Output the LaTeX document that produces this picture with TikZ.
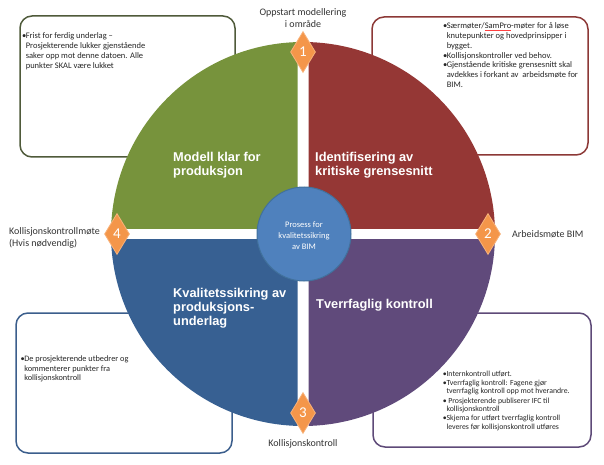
\documentclass[tikz,border=0pt]{standalone}
\usepackage{fontspec}
\setmainfont{Carlito}
\newfontfamily\titlefont{Liberation Sans}
\usetikzlibrary{shapes.geometric}
\definecolor{qgreen}{HTML}{77933C}
\definecolor{qred}{HTML}{953735}
\definecolor{qblue}{HTML}{376092}
\definecolor{qpurple}{HTML}{604A7B}
\definecolor{cblue}{HTML}{4F81BD}
\definecolor{cborder}{HTML}{41719C}
\definecolor{orangefill}{HTML}{F4964A}
\definecolor{orangeedge}{HTML}{F8B27A}
\definecolor{bgreen}{HTML}{4F5A3A}
\definecolor{bred}{HTML}{8C3836}
\definecolor{bblue}{HTML}{3B5E8C}
\definecolor{bpurple}{HTML}{5E4A78}
\definecolor{txt}{HTML}{262626}
\definecolor{lbl}{HTML}{333333}
\newcommand\bul{\makebox[3.6pt][l]{•}}
\newcommand\ind{\hspace*{3.6pt}}
\newcommand\spellmark[1]{\setbox0\hbox{#1}\rlap{\textcolor{red!75!white}{\raisebox{-1.3pt}{\rule{\wd0}{0.45pt}}}}\box0}
\tikzset{
  notebox/.style={rounded corners=12pt, line width=1.5pt, fill=white},
  boxtext/.style={inner sep=0pt, align=left, text=txt, anchor=north west},
  title/.style={inner sep=0pt, align=left, text=white, anchor=north west,
    font=\titlefont\bfseries\fontsize{12.8}{14}\selectfont},
  label/.style={inner sep=0pt, text=lbl, font=\fontsize{10}{12}\selectfont},
  stepmark/.style={diamond, draw=orangeedge, fill=orangefill, line width=0.8pt,
    minimum width=25pt, minimum height=41pt, inner sep=0pt, aspect=0.6,
    text=white, font=\fontsize{15}{15}\selectfont}
}
\begin{document}
\begin{tikzpicture}[x=1pt,y=-1pt]
\useasboundingbox (0,0) rectangle (604,465);
% note boxes
\draw[notebox, draw=bgreen] (20,16) rectangle (235,157);
\draw[notebox, draw=bred] (372,17) rectangle (588,155);
\draw[notebox, draw=bblue] (16,313) rectangle (232,453);
\draw[notebox, draw=bpurple] (373,313) rectangle (591,447);
% quadrants
\coordinate (c) at (303,234);
\begin{scope}
  \clip (297.5,228.5) rectangle (0,0);
  \fill[qgreen] (c) circle (192);
\end{scope}
\begin{scope}
  \clip (308.5,228.5) rectangle (604,0);
  \fill[qred] (c) circle (192);
\end{scope}
\begin{scope}
  \clip (297.5,239.5) rectangle (0,465);
  \fill[qblue] (c) circle (192);
\end{scope}
\begin{scope}
  \clip (308.5,239.5) rectangle (604,465);
  \fill[qpurple] (c) circle (192);
\end{scope}
% centre
\node[circle, fill=cblue, draw=cborder, line width=1pt, minimum size=94pt, inner sep=0pt] (hub) at (304,234) {};
\node[inner sep=0pt, align=center, text=white, font=\fontsize{8.5}{11}\selectfont] (hubtext) at (304,236) {Prosess for\\kvalitetssikring\\av BIM};
% titles
\node[title] (t1) at (173,151.8) {Modell klar for\\produksjon};
\node[title] (t2) at (315,151.8) {Identifisering av\\kritiske grensesnitt};
\node[title] (t3) at (173,287.8) {Kvalitetssikring av\\produksjons-\\underlag};
\node[title] (t4) at (316,298.8) {Tverrfaglig kontroll};
% diamonds
\node[stepmark] (d1) at (303,52) {1};
\node[stepmark] (d2) at (488,234) {2};
\node[stepmark] (d3) at (303,413) {3};
\node[stepmark] (d4) at (117,234) {4};
% labels
\node[label, align=center, anchor=north] (l1) at (303,8.5) {Oppstart modellering\\i område};
\node[label, anchor=base west] (l2) at (512,237) {Arbeidsmøte BIM};
\node[label, anchor=base] (l3) at (303,446) {Kollisjonskontroll};
\node[label, align=left, anchor=north west] (l4) at (9,227) {Kollisjonskontrollmøte\\(Hvis nødvendig)};
% box texts
\node[boxtext, font=\fontsize{8.5}{10}\selectfont] (tltext) at (22,32) {\bul Frist for ferdig underlag –\\\ind Prosjekterende lukker gjenstående\\\ind saker opp mot denne datoen. Alle\\\ind punkter SKAL være lukket};
\node[boxtext, font=\fontsize{8.5}{9.8}\selectfont] (trtext) at (443,22.5) {\bul Særmøter/\spellmark{SamPro}-møter for å løse\\\ind knutepunkter og hovedprinsipper i\\\ind bygget.\\\bul Kollisjonskontroller ved behov.\\\bul Gjenstående kritiske grensesnitt skal\\\ind avdekkes i forkant av\ \ arbeidsmøte for\\\ind BIM.};
\node[boxtext, font=\fontsize{8.3}{9.5}\selectfont] (bltext) at (20.5,355.8) {\bul De prosjekterende utbedrer og\\\ind kommenterer punkter fra\\\ind kollisjonskontroll};
\node[boxtext, font=\fontsize{7.8}{8.3}\selectfont] (brtext) at (442.7,370.8) {\bul Internkontroll utført.\\[0.9pt]\bul Tverrfaglig kontroll: Fagene gjør\\\ind tverrfaglig kontroll opp mot hverandre.\\[0.9pt]\bul\ Prosjekterende publiserer IFC til\\\ind kollisjonskontroll\\[1.2pt]\bul Skjema for utført tverrfaglig kontroll\\\ind leveres før kollisjonskontroll utføres};
\end{tikzpicture}
\end{document}
